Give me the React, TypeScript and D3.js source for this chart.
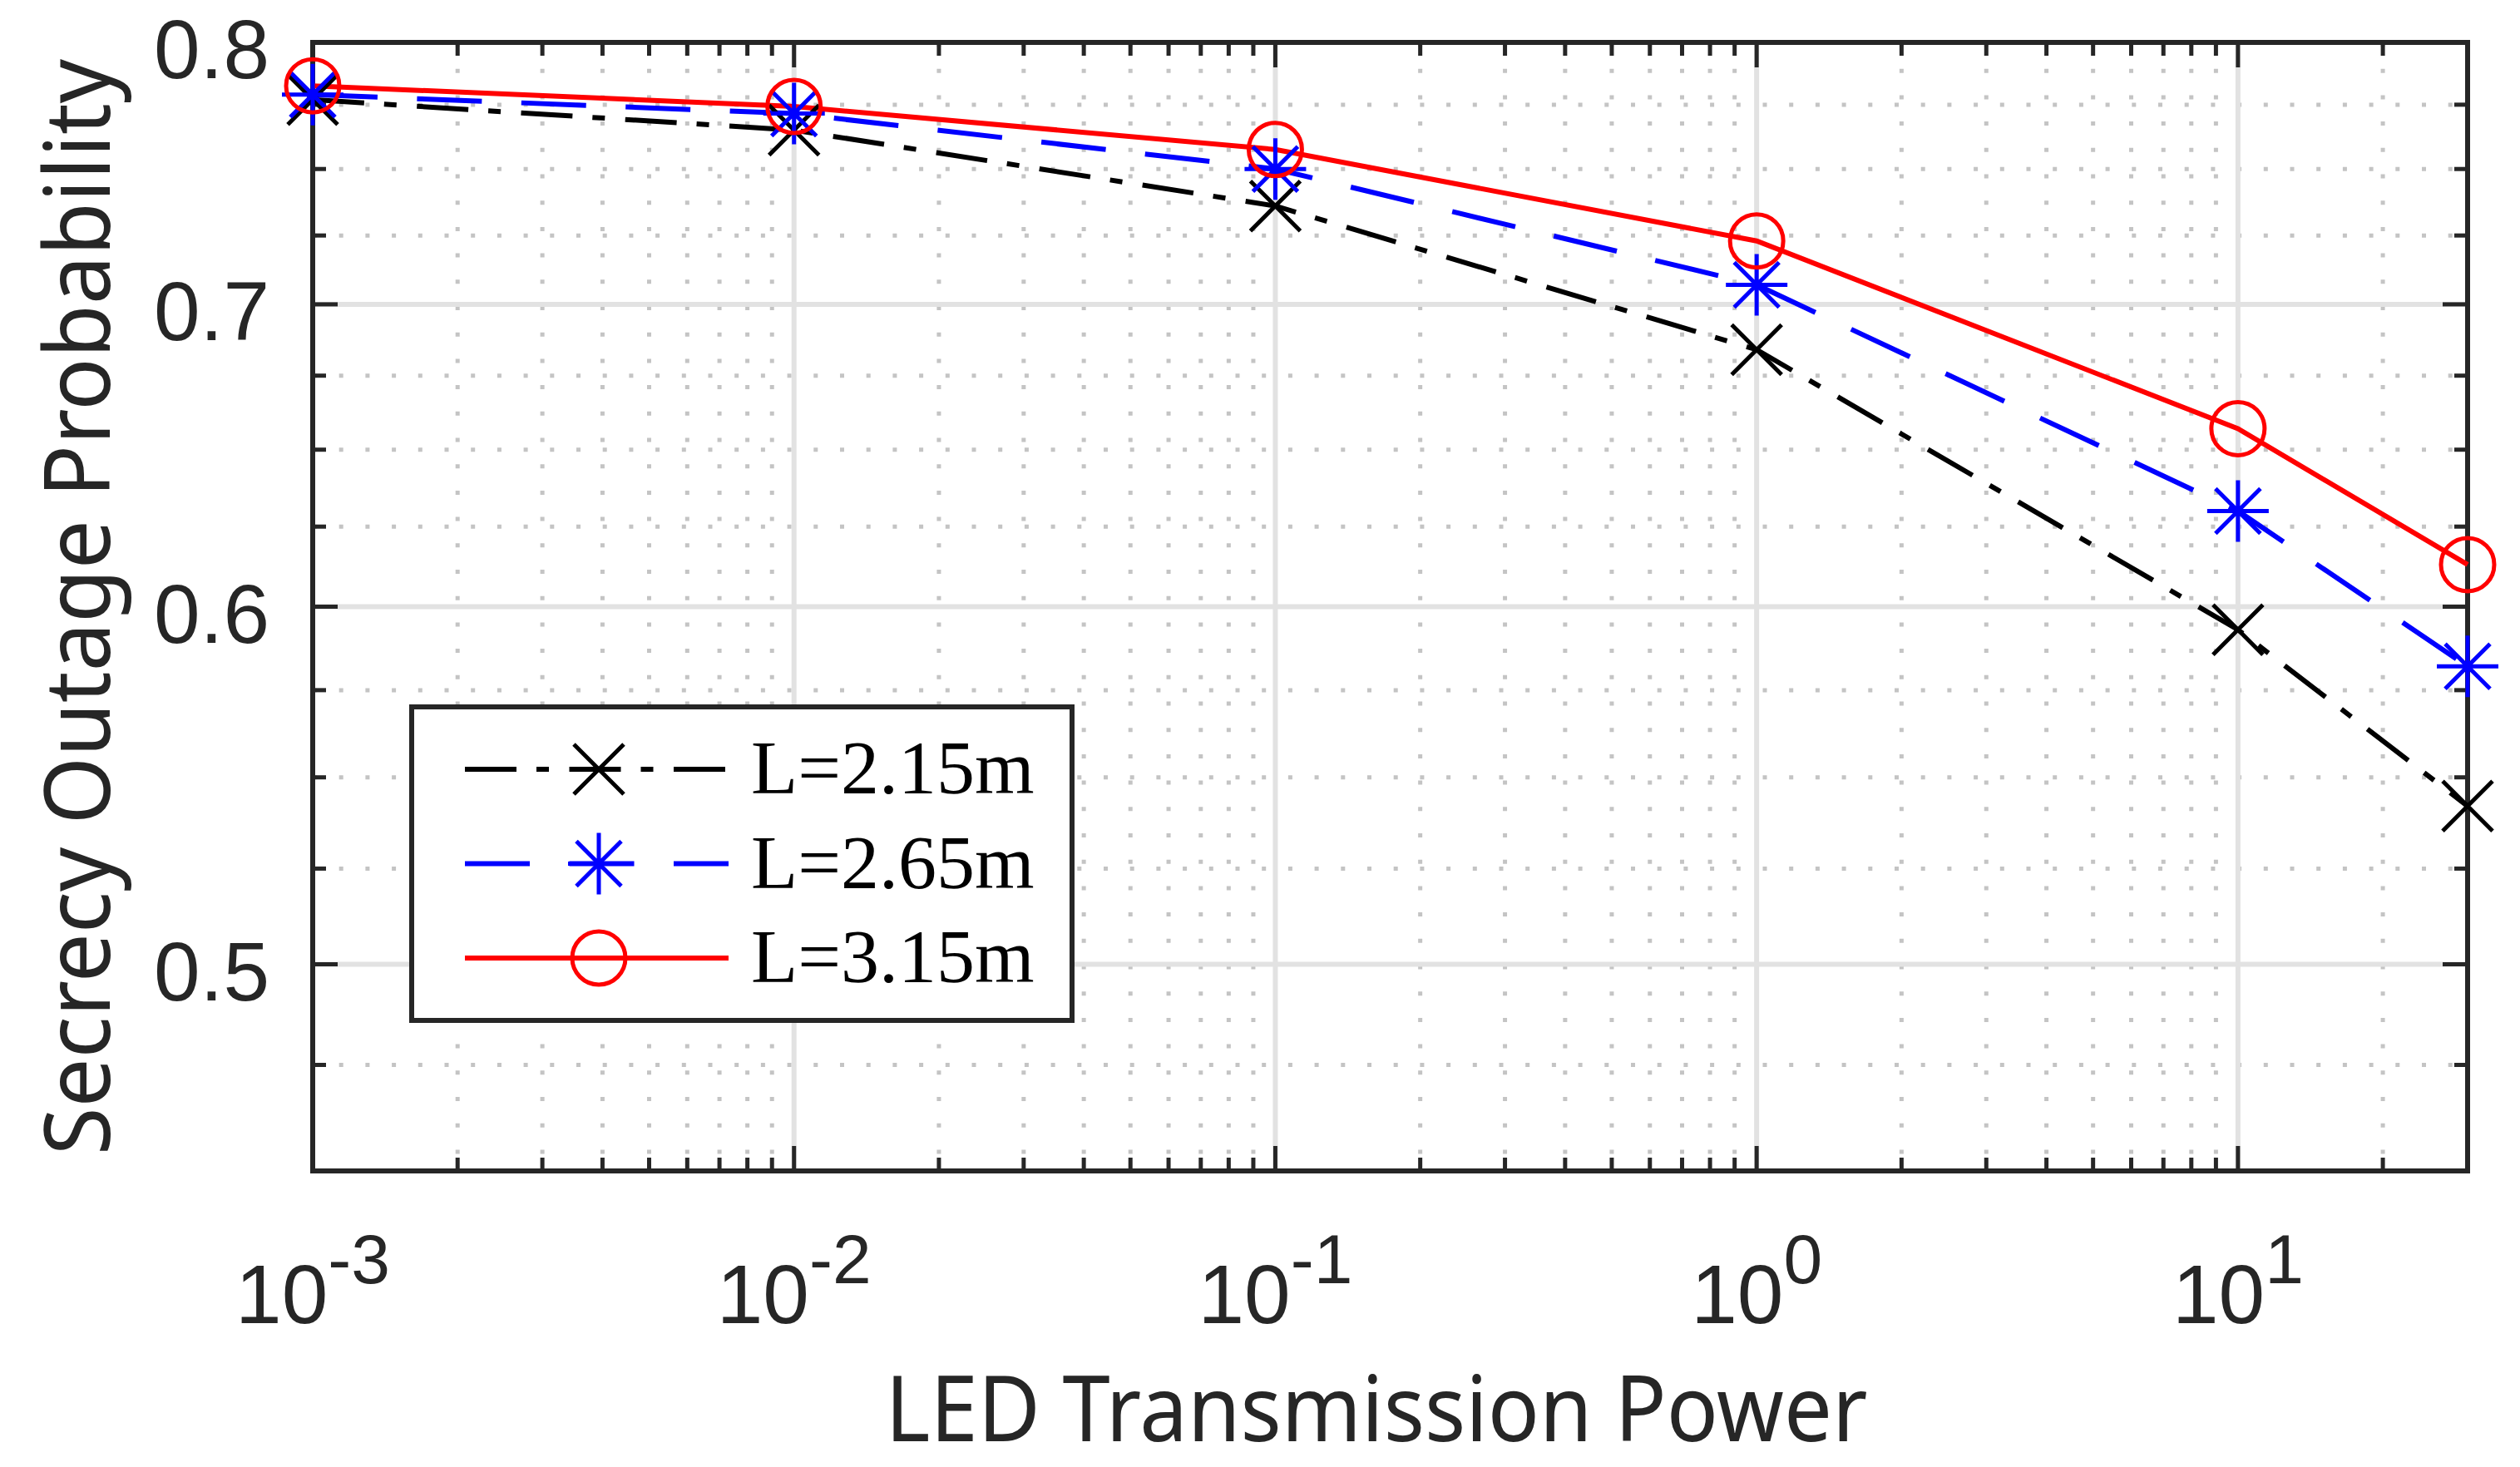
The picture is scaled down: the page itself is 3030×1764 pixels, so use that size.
import { useEffect, useRef } from 'react';
import * as d3 from 'd3';

// LED transmission power (x) and secrecy outage probability per receiver distance L
const powers = [1e-3, 1e-2, 1e-1, 1, 10, 30];
const sopL215 = [0.777, 0.765, 0.736, 0.684, 0.593, 0.542];
const sopL265 = [0.779, 0.7715, 0.75, 0.707, 0.63, 0.582];
const sopL315 = [0.7825, 0.7743, 0.7575, 0.723, 0.657, 0.613];
const seriesLabels = ['L=2.15m', 'L=2.65m', 'L=3.15m'];

const xMajorTicks = [1e-3, 1e-2, 1e-1, 1, 10];
const xTickExponents = ['-3', '-2', '-1', '0', '1'];
const yMajorTicks = [0.5, 0.6, 0.7, 0.8];
const yTickLabels = ['0.5', '0.6', '0.7', '0.8'];
const yMinorTicks = [0.475, 0.525, 0.55, 0.575, 0.625, 0.65, 0.675, 0.725, 0.75, 0.775];

type MarkerType = 'x' | '*' | 'o';

function markerPath(type: MarkerType, cx: number, cy: number) {
    const p = d3.path();
    if (type === 'x') {
        p.moveTo(cx - 30, cy - 30);
        p.lineTo(cx + 30, cy + 30);
        p.moveTo(cx - 30, cy + 30);
        p.lineTo(cx + 30, cy - 30);
    } else if (type === '*') {
        p.moveTo(cx - 37, cy);
        p.lineTo(cx + 37, cy);
        p.moveTo(cx, cy - 37);
        p.lineTo(cx, cy + 37);
        p.moveTo(cx - 27, cy - 27);
        p.lineTo(cx + 27, cy + 27);
        p.moveTo(cx - 27, cy + 27);
        p.lineTo(cx + 27, cy - 27);
    } else {
        p.moveTo(cx + 32, cy);
        p.arc(cx, cy, 32, 0, 2 * Math.PI);
    }
    return p.toString();
}

export default function App() {
    const svgRef = useRef<SVGSVGElement>(null);

    useEffect(() => {
        if (!svgRef.current) return;
        const svg = d3.select(svgRef.current);
        svg.selectAll('*').remove();

        const width = 3030;
        const height = 1764;
        const margin = { top: 51, right: 63, bottom: 356, left: 376 };
        const axisColor = '#262626';

        const x = d3.scaleLog().domain([1e-3, 30]).range([margin.left, width - margin.right]);
        const y = d3.scaleLog().domain([0.45, 0.8]).range([height - margin.bottom, margin.top]);
        const [xl, xr] = x.range();
        const [yb, yt] = y.range();

        const isDecade = (d: number) => Math.abs(Math.log10(d) - Math.round(Math.log10(d))) < 1e-9;
        const xMinorTicks = x.ticks().filter((d) => !isDecade(d) && d < 30);

        svg.append('rect').attr('width', width).attr('height', height).attr('fill', '#ffffff');

        // Minor grid (dotted)
        const minor = svg.append('g').attr('stroke', '#c4c4c4').attr('stroke-width', 5).attr('stroke-dasharray', '5,26.7');
        xMinorTicks.forEach((d) => {
            minor.append('line').attr('x1', x(d)).attr('x2', x(d)).attr('y1', yt).attr('y2', yb);
        });
        yMinorTicks.forEach((d) => {
            minor.append('line').attr('x1', xl).attr('x2', xr).attr('y1', y(d)).attr('y2', y(d));
        });

        // Major grid
        const major = svg.append('g').attr('stroke', '#e2e2e2').attr('stroke-width', 6);
        xMajorTicks.slice(1).forEach((d) => {
            major.append('line').attr('x1', x(d)).attr('x2', x(d)).attr('y1', yt).attr('y2', yb);
        });
        yMajorTicks.slice(0, -1).forEach((d) => {
            major.append('line').attr('x1', xl).attr('x2', xr).attr('y1', y(d)).attr('y2', y(d));
        });

        // Axes box and ticks on all sides
        const axes = svg.append('g').attr('stroke', axisColor).attr('stroke-width', 5);
        const tick = (x1: number, y1: number, x2: number, y2: number) =>
            axes.append('line').attr('x1', x1).attr('y1', y1).attr('x2', x2).attr('y2', y2);
        xMajorTicks.forEach((d) => {
            tick(x(d), yb, x(d), yb - 30);
            tick(x(d), yt, x(d), yt + 30);
        });
        xMinorTicks.forEach((d) => {
            tick(x(d), yb, x(d), yb - 16);
            tick(x(d), yt, x(d), yt + 16);
        });
        yMajorTicks.forEach((d) => {
            tick(xl, y(d), xl + 30, y(d));
            tick(xr, y(d), xr - 30, y(d));
        });
        yMinorTicks.forEach((d) => {
            tick(xl, y(d), xl + 16, y(d));
            tick(xr, y(d), xr - 16, y(d));
        });
        svg.append('rect')
            .attr('x', xl)
            .attr('y', yt)
            .attr('width', xr - xl)
            .attr('height', yb - yt)
            .attr('fill', 'none')
            .attr('stroke', axisColor)
            .attr('stroke-width', 6);

        // Tick labels
        const tickFont = '"Liberation Sans", Arial, sans-serif';
        svg.append('g')
            .selectAll('text')
            .data(yMajorTicks)
            .enter()
            .append('text')
            .attr('x', 324)
            .attr('y', (d) => y(d) + 43)
            .attr('text-anchor', 'end')
            .attr('font-family', tickFont)
            .attr('font-size', 100)
            .attr('fill', axisColor)
            .text((d, i) => yTickLabels[i]);

        svg.append('g')
            .selectAll('text')
            .data(xMajorTicks)
            .enter()
            .append('text')
            .attr('x', (d) => x(d))
            .attr('y', 1591)
            .attr('text-anchor', 'middle')
            .attr('font-family', tickFont)
            .attr('font-size', 100)
            .attr('fill', axisColor)
            .each(function (d, i) {
                const t = d3.select(this);
                t.append('tspan').text('10');
                t.append('tspan').attr('dy', -48).attr('font-size', 84).text(xTickExponents[i]);
            });

        // Axis titles
        const titleFont = '"Noto Sans", "Open Sans", sans-serif';
        svg.append('text')
            .attr('x', 1655)
            .attr('y', 1733)
            .attr('text-anchor', 'middle')
            .attr('font-family', titleFont)
            .attr('font-size', 110)
            .attr('fill', axisColor)
            .attr('textLength', 1181)
            .attr('lengthAdjust', 'spacingAndGlyphs')
            .text('LED Transmission Power');

        svg.append('text')
            .attr('transform', `translate(132, 730) rotate(-90)`)
            .attr('text-anchor', 'middle')
            .attr('font-family', titleFont)
            .attr('font-size', 110)
            .attr('fill', axisColor)
            .attr('textLength', 1318)
            .attr('lengthAdjust', 'spacingAndGlyphs')
            .text('Secrecy Outage Probability');

        // Series
        const series = [
            { values: sopL215, color: '#000000', dash: '62,24,15,24.5', marker: 'x' as MarkerType },
            { values: sopL265, color: '#0000ff', dash: '78,47.5', marker: '*' as MarkerType },
            { values: sopL315, color: '#ff0000', dash: null, marker: 'o' as MarkerType },
        ];

        const line = d3
            .line<number>()
            .x((d, i) => x(powers[i]))
            .y((d) => y(d));

        series.forEach((s) => {
            svg.append('path')
                .datum(s.values)
                .attr('fill', 'none')
                .attr('stroke', s.color)
                .attr('stroke-width', 6)
                .attr('stroke-dasharray', s.dash)
                .attr('d', line);
        });

        series.forEach((s) => {
            svg.append('g')
                .selectAll('path')
                .data(s.values)
                .enter()
                .append('path')
                .attr('fill', 'none')
                .attr('stroke', s.color)
                .attr('stroke-width', 5)
                .attr('d', (d, i) => markerPath(s.marker, x(powers[i]), y(d)));
        });

        // Legend
        const legend = svg.append('g');
        legend
            .append('rect')
            .attr('x', 495)
            .attr('y', 850)
            .attr('width', 794)
            .attr('height', 377)
            .attr('fill', '#ffffff')
            .attr('stroke', axisColor)
            .attr('stroke-width', 6);

        series.forEach((s, i) => {
            const rowY = 925 + i * 113.5;
            legend
                .append('line')
                .attr('x1', 559)
                .attr('x2', 876)
                .attr('y1', rowY)
                .attr('y2', rowY)
                .attr('stroke', s.color)
                .attr('stroke-width', 6)
                .attr('stroke-dasharray', s.dash);
            legend
                .append('path')
                .attr('fill', 'none')
                .attr('stroke', s.color)
                .attr('stroke-width', 5)
                .attr('d', markerPath(s.marker, 720, rowY));
            legend
                .append('text')
                .attr('x', 903)
                .attr('y', rowY + 29)
                .attr('font-family', '"Liberation Serif", "Times New Roman", serif')
                .attr('font-size', 92)
                .attr('fill', '#000000')
                .text(seriesLabels[i]);
        });
    }, []);

    return (
        <svg
            ref={svgRef}
            width={3030}
            height={1764}
            style={{ position: 'absolute', left: 0, top: 0, display: 'block' }}
        />
    );
}
